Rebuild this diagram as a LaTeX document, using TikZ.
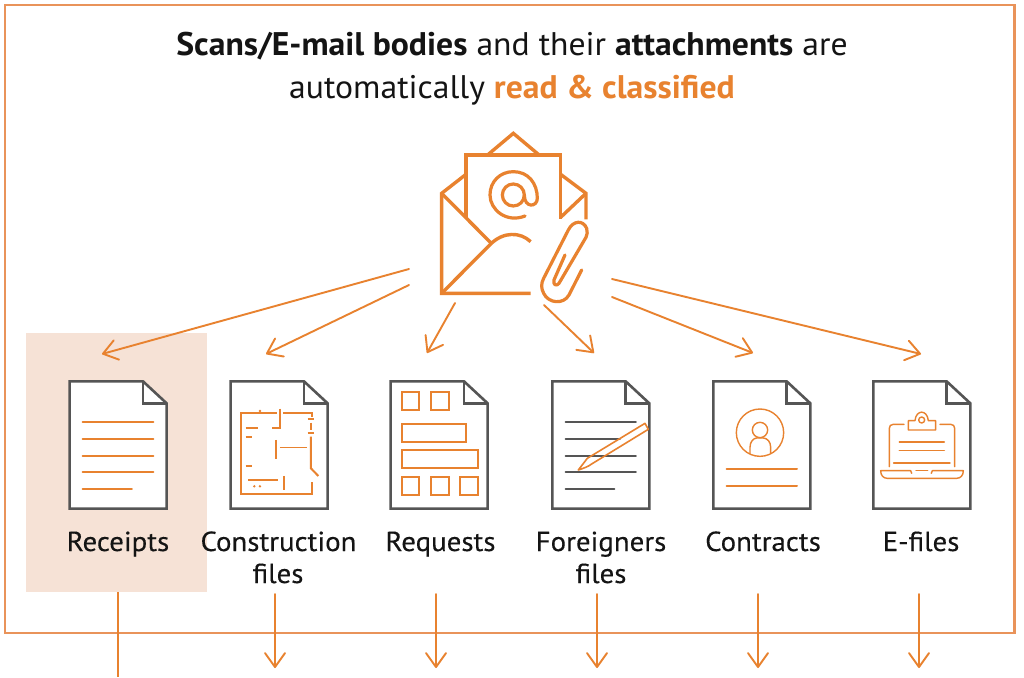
\documentclass[tikz,border=0pt]{standalone}
\usepackage{fontspec}
\usetikzlibrary{arrows.meta}
\setmainfont{PT Sans}
\newfontfamily\headfont[FakeStretch=1.03]{PT Sans}
\newfontfamily\labfont[FakeStretch=1.05,FakeBold=0.25]{PT Sans}
\definecolor{org}{HTML}{E8822F}
\definecolor{frameorg}{HTML}{E9935A}
\definecolor{peach}{HTML}{F6E2D6}
\definecolor{docgray}{HTML}{555555}
\definecolor{ink}{HTML}{141414}
\tikzset{
  x=1pt,y=-1pt,
  arrowline/.style={draw=org,line width=1.9pt,line cap=round,-{Straight Barb[length=14pt,width=20pt,line width=1.9pt,round]}},
  docline/.style={draw=docgray,line width=2.6pt,line join=miter},
  ico/.style={draw=org,line width=2pt,line cap=round},
  thinico/.style={draw=org,line width=1.4pt,line cap=round,line join=round},
  grayline/.style={draw=docgray,line width=2pt,line cap=round},
  envline/.style={draw=org,line width=3.4pt,line cap=butt,line join=miter},
  lab/.style={font=\labfont\fontsize{27.5}{32}\selectfont,text=ink,align=center,inner sep=0pt,anchor=base},
  head/.style={font=\headfont\fontsize{32.7}{38}\selectfont,text=ink,inner sep=0pt,anchor=base},
  zoomed/.style={shift={(#1)},scale=0.3333},
}
\newcommand{\docicon}[3]{%
  % #1 name, #2 origin of crop, #3 left edge in crop coordinates
  \begin{scope}[zoomed={#2}]
    \fill[white] (#3+2,34) -- ++(220,0) -- ++(71,66) -- ++(0,316) -- ++(-291,0) -- cycle;
    \draw[docline] (#3+2,34) -- ++(220,0) -- ++(71,66) -- ++(0,316) -- ++(-291,0) -- cycle;
    \draw[docline] (#3+2,34) ++(220,0) -- ++(0,66) -- ++(71,0);
    \node[inner sep=0pt,minimum width=98pt,minimum height=128pt] (#1) at (#3+146,225) {};
  \end{scope}}
\begin{document}
\begin{tikzpicture}
\useasboundingbox (0,0) rectangle (1024,677);
\fill[white] (0,0) rectangle (1024,677);
\fill[peach] (26,333) rectangle (207,591.5);
\draw[frameorg,line width=2.2pt] (5,5) rectangle (1014.5,632.7);

% heading
\node[head] (h1) at (512,56) {\textbf{Scans/E-mail bodies} and their \textbf{attachments} are};
\node[head] (h2) at (512,98) {automatically \textcolor{org}{\textbf{read \& classified}}};

% envelope with letter
\node[inner sep=0pt,minimum width=146pt,minimum height=170pt] (env) at (514,217) {};
\begin{scope}[zoomed={400,120}]
  \draw[envline] (265,103) -- (340,40) -- (415,103);
  \draw[envline] (198,295) -- (198,105) -- (482,105) -- (482,297);
  \draw[envline] (198,163) -- (125,220) -- (125,520) -- (392,520);
  \draw[envline] (482,163) -- (558,220) -- (558,298);
  \draw[envline] (558,220) -- (482,292);
  \draw[envline] (125,220) -- (272,368);
  \draw[envline] (125,520) -- (272,372) .. controls (310,335) and (360,335) .. (392,365);
  % at sign
  \draw[org,line width=3.2pt] (340,225) circle (33);
  \draw[org,line width=3.2pt,line cap=round] (375,288) .. controls (320,310) and (270,270) .. (270,225)
    .. controls (270,185) and (300,155) .. (340,155)
    .. controls (385,155) and (412,190) .. (412,235)
    .. controls (412,262) and (373,265) .. (373,225);
  % paper clip
  \draw[org,line width=3.2pt,line cap=round,line join=round] (545,450) -- (507,525)
    .. controls (490,555) and (445,550) .. (431,520)
    .. controls (423,505) and (423,490) .. (431,475)
    -- (505,330) .. controls (520,300) and (550,300) .. (560,325)
    .. controls (563,335) and (562,345) .. (558,352)
    -- (477,490) .. controls (470,500) and (458,495) .. (462,480)
    -- (495,405);
\end{scope}

% documents
\docicon{d1}{50,370}{57}
\docicon{d2}{50,370}{540}
\docicon{d3}{370,370}{60}
\docicon{d4}{370,370}{545}
\docicon{d5}{700,370}{38}
\docicon{d6}{700,370}{518}

% doc 1: lines
\begin{scope}[zoomed={50,370}]
  \foreach \yy in {155,206,257,307} \draw[ico] (98,\yy) -- (310,\yy);
  \draw[ico] (98,358) -- (246,358);
  % doc 2: floor plan
  \draw[ico,line cap=butt] (680,128) -- (572,128) -- (572,372) -- (785,372) -- (785,335);
  \draw[ico,line cap=butt] (690,116) -- (690,175) -- (667,175);
  \draw[ico,line cap=butt] (700,128) -- (785,128) -- (785,140);
  \draw[ico,line cap=butt] (773,148) -- (793,148);
  \draw[ico,line cap=butt] (783,158) -- (783,180);
  \draw[ico,line cap=butt] (773,190) -- (793,190);
  \draw[ico,line cap=butt] (783,200) -- (783,295) -- (805,318);
  \draw[ico,line cap=butt] (587,174) -- (625,174);
  \draw[ico,line cap=butt] (587,200) -- (607,200);
  \draw[ico,line cap=butt] (587,288) -- (607,288);
  \draw[ico,line cap=butt] (678,210) -- (678,268);
  \draw[ico,line width=1.7pt,line cap=butt] (690,232.6) -- (770,232.6);
  \draw[ico,line cap=butt] (595,330) -- (685,330);
  \draw[ico,line cap=butt] (701,318) -- (701,360);
  \fill[org] (613,349) circle (4) (630,349) circle (4) (630,123) circle (4);
\end{scope}
% doc 3: form boxes, doc 4: text and pen
\begin{scope}[zoomed={370,370}]
  \draw[ico,line join=miter] (95,66) rectangle (148,119) (182,66) rectangle (236,119)
     (95,163) rectangle (288,215) (95,241) rectangle (323,294)
     (95,322) rectangle (148,375) (182,322) rectangle (236,375) (269,322) rectangle (323,375);
  \draw[grayline] (587,155) -- (798,155);
  \draw[grayline] (587,206) -- (750,206);
  \draw[grayline] (587,257) -- (798,257);
  \draw[grayline] (587,307) -- (798,307);
  \draw[grayline] (587,358) -- (733,358);
  \draw[thinico,line width=1.6pt] (625,300) -- (652,265) -- (825,160) -- (835,178) -- (665,282) .. controls (655,290) and (640,295) .. (625,300) -- cycle;
\end{scope}
% doc 5: contact, doc 6: laptop
\begin{scope}[zoomed={700,370}]
  \draw[thinico] (180,188) circle (71);
  \draw[thinico] (180,180) circle (23);
  \draw[thinico] (150,250) -- (150,232) .. controls (150,215) and (160,205) .. (170,204) -- (190,204) .. controls (202,205) and (212,215) .. (212,232) -- (212,250);
  \draw[ico] (80,298) -- (291,298);
  \draw[ico] (80,349) -- (291,349);
  \draw[thinico] (568,290) -- (568,175) .. controls (568,168) and (572,163) .. (580,163) -- (612,163);
  \draw[thinico] (720,163) -- (752,163) .. controls (760,163) and (764,168) .. (764,175) -- (764,290);
  \draw[thinico] (625,180) -- (625,152) -- (645,152) .. controls (648,118) and (682,118) .. (685,152) -- (707,152) -- (707,180) -- cycle;
  \draw[thinico] (665,150) circle (9);
  \draw[thinico] (598,216) -- (733,216);
  \draw[thinico] (598,241) -- (733,241);
  \draw[thinico] (581,279) -- (750,279);
  \draw[thinico] (635,310) -- (632,302) -- (542,302) .. controls (542,316) and (550,325) .. (562,325) -- (770,325) .. controls (782,325) and (790,316) .. (790,302) -- (697,302) -- (694,310);
  \draw[thinico] (648,302) -- (683,302);
\end{scope}

% labels
\node[lab] (l1) at (118,551) {Receipts};
\node[lab] (l2) at (278.5,551) {Construction};
\node[lab] (l2b) at (278,583) {files};
\node[lab] (l3) at (440.5,551) {Requests};
\node[lab] (l4) at (601,551) {Foreigners};
\node[lab] (l4b) at (601,583) {files};
\node[lab] (l5) at (763,551) {Contracts};
\node[lab] (l6) at (921,551) {E-files};

% connector ends
\coordinate (a1s) at (409,269); \coordinate (a1e) at (102,354);
\coordinate (a2s) at (409,285); \coordinate (a2e) at (266,354);
\coordinate (a3s) at (455,303); \coordinate (a3e) at (427,353);
\coordinate (a4s) at (544,305); \coordinate (a4e) at (594,353);
\coordinate (a5s) at (612,297); \coordinate (a5e) at (753,353);
\coordinate (a6s) at (612,279); \coordinate (a6e) at (921,354);
\draw[arrowline] (a1s) -- (a1e);
\draw[arrowline] (a2s) -- (a2e);
\draw[arrowline] (a3s) -- (a3e);
\draw[arrowline] (a4s) -- (a4e);
\draw[arrowline] (a5s) -- (a5e);
\draw[arrowline] (a6s) -- (a6e);

\coordinate (b1s) at (118,592); \coordinate (b1e) at (118,677);
\draw[org,line width=2.8pt] (b1s) -- (b1e);
\foreach \nn/\xx in {2/275,3/436,4/597,5/758,6/919}{
  \coordinate (b\nn s) at (\xx,594);
  \coordinate (b\nn e) at (\xx,668);
  \draw[arrowline] (b\nn s) -- (b\nn e);
}
\end{tikzpicture}
\end{document}
